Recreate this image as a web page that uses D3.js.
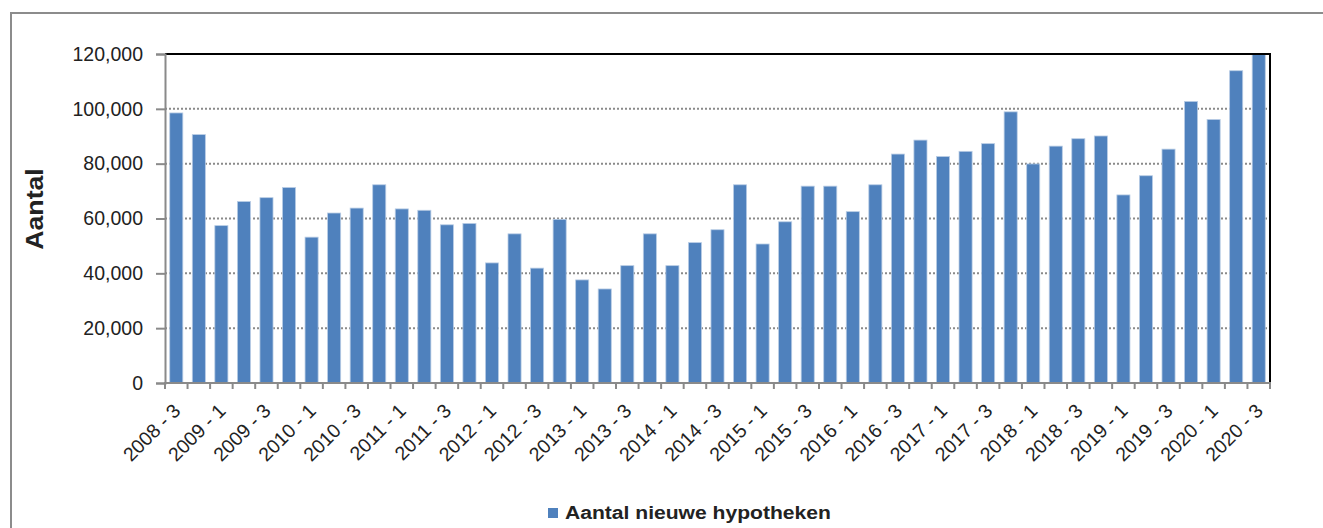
<!DOCTYPE html>
<html>
<head>
<meta charset="utf-8">
<script src="https://cdn.jsdelivr.net/npm/d3@7"></script>
<style>
    body { margin: 0; background: #fff; }
    text { font-family: "Liberation Sans", Arial, sans-serif; fill: #222; }
</style>
</head>
<body>
<div id="chart"></div>
<script>
// Data
const quarters = [
    "2008 - 3", "2008 - 4",
    "2009 - 1", "2009 - 2", "2009 - 3", "2009 - 4",
    "2010 - 1", "2010 - 2", "2010 - 3", "2010 - 4",
    "2011 - 1", "2011 - 2", "2011 - 3", "2011 - 4",
    "2012 - 1", "2012 - 2", "2012 - 3", "2012 - 4",
    "2013 - 1", "2013 - 2", "2013 - 3", "2013 - 4",
    "2014 - 1", "2014 - 2", "2014 - 3", "2014 - 4",
    "2015 - 1", "2015 - 2", "2015 - 3", "2015 - 4",
    "2016 - 1", "2016 - 2", "2016 - 3", "2016 - 4",
    "2017 - 1", "2017 - 2", "2017 - 3", "2017 - 4",
    "2018 - 1", "2018 - 2", "2018 - 3", "2018 - 4",
    "2019 - 1", "2019 - 2", "2019 - 3", "2019 - 4",
    "2020 - 1", "2020 - 2", "2020 - 3"
];

const nieuweHypotheken = [
    98500, 90600,
    57400, 66200, 67600, 71300,
    53200, 62000, 63800, 72300,
    63500, 63000, 57700, 58200,
    43800, 54400, 41900, 59700,
    37600, 34300, 42800, 54400,
    42800, 51200, 55900, 72300,
    50700, 58800, 71800, 71800,
    62500, 72300, 83500, 88600,
    82600, 84500, 87300, 98900,
    79900, 86400, 89100, 90100,
    68600, 75600, 85300, 102700,
    96100, 113900, 120000
];

const tickLabels = quarters.filter((q, i) => i % 2 === 0);
const yTicks = [0, 20000, 40000, 60000, 80000, 100000, 120000];
const seriesName = "Aantal nieuwe hypotheken";
const yTitle = "Aantal";

// Layout
const width = 1323, height = 528;
const plotLeft = 165, plotRight = 1270, plotTop = 54, plotBottom = 383;

const svg = d3.select("#chart").append("svg")
    .attr("width", width)
    .attr("height", height);

// outer frame
svg.append("rect")
    .attr("x", 11).attr("y", 13)
    .attr("width", 1330).attr("height", 540)
    .attr("fill", "none")
    .attr("stroke", "#8c8c8c")
    .attr("stroke-width", 2);

const x = d3.scaleBand()
    .domain(quarters)
    .range([plotLeft, plotRight])
    .paddingInner(0.42)
    .paddingOuter(0.21);

const y = d3.scaleLinear()
    .domain([0, 120000])
    .range([plotBottom, plotTop]);

// gridlines
svg.append("g")
    .selectAll("line")
    .data(yTicks.filter(d => d > 0 && d < 120000))
    .enter()
    .append("line")
    .attr("x1", plotLeft).attr("x2", plotRight)
    .attr("y1", d => y(d)).attr("y2", d => y(d))
    .attr("stroke", "#8a8a8a")
    .attr("stroke-width", 2)
    .attr("stroke-dasharray", "2,2");

// bars
svg.append("g")
    .selectAll("rect")
    .data(nieuweHypotheken)
    .enter()
    .append("rect")
    .attr("x", (d, i) => x(quarters[i]))
    .attr("y", d => y(d))
    .attr("width", x.bandwidth())
    .attr("height", d => y(0) - y(d))
    .attr("fill", "#4f81bd")
    .attr("stroke", "#b9cde5")
    .attr("stroke-width", 0.8);

// top and right border of plot area
svg.append("path")
    .attr("d", `M${plotLeft},${plotTop}H${plotRight}V${plotBottom}`)
    .attr("fill", "none")
    .attr("stroke", "#000")
    .attr("stroke-width", 2);

// y axis
const yAxis = svg.append("g")
    .attr("transform", `translate(${plotLeft},0)`)
    .call(d3.axisLeft(y).tickValues(yTicks).tickSize(9).tickPadding(13)
        .tickFormat(d3.format(",")));
yAxis.select(".domain").attr("stroke", "#8a8a8a").attr("stroke-width", 2);
yAxis.selectAll(".tick line").attr("stroke", "#8a8a8a").attr("stroke-width", 2);
yAxis.selectAll(".tick text")
    .attr("font-size", 19.5)
    .attr("fill", "#222");

// x axis: ticks on band edges
const step = x.step();
const edges = d3.range(quarters.length + 1).map(i => plotLeft + i * step);
svg.append("g")
    .selectAll("line")
    .data(edges)
    .enter()
    .append("line")
    .attr("x1", d => d).attr("x2", d => d)
    .attr("y1", plotBottom).attr("y2", plotBottom + 6)
    .attr("stroke", "#8a8a8a")
    .attr("stroke-width", 2);

svg.append("line")
    .attr("x1", plotLeft - 1).attr("x2", plotRight + 1)
    .attr("y1", plotBottom).attr("y2", plotBottom)
    .attr("stroke", "#8a8a8a")
    .attr("stroke-width", 2);

svg.append("g")
    .selectAll("text")
    .data(tickLabels)
    .enter()
    .append("text")
    .attr("transform", d => `translate(${x(d) + x.bandwidth() / 2 + 5.5},${plotBottom + 29}) rotate(-45)`)
    .attr("text-anchor", "end")
    .attr("font-size", 19.5)
    .text(d => d);

// y title
svg.append("text")
    .attr("transform", `translate(43,209) rotate(-90) scale(1.16,1)`)
    .attr("text-anchor", "middle")
    .attr("font-size", 23)
    .attr("font-weight", "bold")
    .attr("fill", "#000")
    .text(yTitle);

// legend
const legend = svg.append("g").attr("transform", "translate(548,508)");
legend.append("rect")
    .attr("width", 10).attr("height", 10)
    .attr("fill", "#4f81bd");
legend.append("text")
    .attr("transform", "translate(17,10.5) scale(1.11,1)")
    .attr("font-size", 19)
    .attr("font-weight", "bold")
    .attr("fill", "#000")
    .text(seriesName);
</script>
</body>
</html>
